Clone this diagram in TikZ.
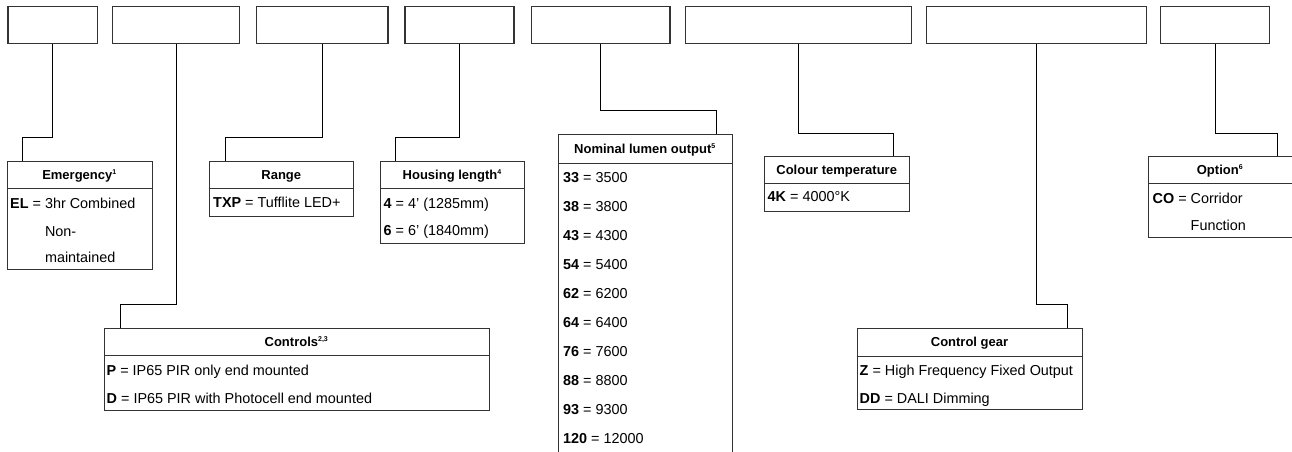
\documentclass[tikz,border=0pt]{standalone}
\usepackage{fontspec}
\setmainfont{Liberation Sans}
\usepackage{tikz}
\usetikzlibrary{positioning,calc}
\definecolor{CodeLine}{HTML}{333333}
\newcommand{\headfont}{\fontsize{13}{15}\selectfont\bfseries}
\newcommand{\rowfont}{\fontsize{14.4}{17}\selectfont}
\newcommand{\fnote}[1]{\textsuperscript{\fontsize{7}{7}\selectfont #1}}
\tikzset{
  codebox/.style={draw=CodeLine,line width=1.3pt,minimum height=36.7pt,anchor=north west,inner sep=0pt},
  keybox/.style={draw=CodeLine,line width=1pt,anchor=north west,inner sep=0pt},
  keyhead/.style={font=\headfont,anchor=base,inner sep=0pt},
  keyrow/.style={font=\rowfont,anchor=base west,inner sep=0pt},
  divider/.style={draw=CodeLine,line width=1pt},
  link/.style={draw=black,line width=1pt}
}
\begin{document}
\begin{tikzpicture}[x=1pt,y=-1pt]
  \useasboundingbox (0,0) rectangle (1292,452);
  \clip (0,0) rectangle (1292,452);
  % code boxes along the top
  \node[codebox,minimum width=89.4pt] (t1) at (7.3,6) {};
  \node[codebox,minimum width=127.3pt] (t2) at (111.7,6) {};
  \node[codebox,minimum width=131.3pt] (t3) at (256,6) {};
  \node[codebox,minimum width=109pt] (t4) at (404.3,6) {};
  \node[codebox,minimum width=138.3pt] (t5) at (531,6) {};
  \node[codebox,minimum width=225.7pt] (t6) at (685,6) {};
  \node[codebox,minimum width=220pt] (t7) at (925.7,6) {};
  \node[codebox,minimum width=109pt] (t8) at (1160,6) {};
  % key tables
  \node[keybox,minimum width=144.4pt,minimum height=108.3pt] (emer) at (7.3,161) {};
  \draw[divider] ([yshift=-27.3pt]emer.north west) -- ([yshift=-27.3pt]emer.north east);
  \node[keyhead] (emerhd) at (79.5,179.3) {Emergency\fnote{1}};
  \node[keyrow] (emerel) at (10,208.2) {\textbf{EL} = 3hr Combined};
  \node[keyrow] (emernon) at (10,236) {\phantom{\textbf{EL} = }Non-};
  \node[keyrow] (emermnt) at (10,262) {\phantom{\textbf{EL} = }maintained};

  \node[keybox,minimum width=385pt,minimum height=82pt] (ctrl) at (104,327.7) {};
  \draw[divider] ([yshift=-27.3pt]ctrl.north west) -- ([yshift=-27.3pt]ctrl.north east);
  \node[keyhead] (ctrlhd) at (296.5,346) {Controls\fnote{2,3}};
  \node[keyrow] (ctrlp) at (106.5,375.9) {\textbf{P} = IP65 PIR only end mounted};
  \node[keyrow] (ctrld) at (106.5,403.2) {\textbf{D} = IP65 PIR with Photocell end mounted};

  \node[keybox,minimum width=144pt,minimum height=55pt] (range) at (209.3,161) {};
  \draw[divider] ([yshift=-27.3pt]range.north west) -- ([yshift=-27.3pt]range.north east);
  \node[keyhead] (rangehd) at (281.3,179.3) {Range};
  \node[keyrow] (rangetxp) at (213,207.2) {\textbf{TXP} = Tufflite LED+};

  \node[keybox,minimum width=144.3pt,minimum height=82.3pt] (house) at (380,161) {};
  \draw[divider] ([yshift=-27.3pt]house.north west) -- ([yshift=-27.3pt]house.north east);
  \node[keyhead] (househd) at (452.2,179.3) {Housing length\fnote{4}};
  \node[keyrow] (housefour) at (383.5,208.2) {\textbf{4} = 4’ (1285mm)};
  \node[keyrow] (housesix) at (383.5,235.2) {\textbf{6} = 6’ (1840mm)};

  \node[keybox,minimum width=173.4pt,minimum height=340pt] (lumen) at (558.3,134) {};
  \draw[divider] ([yshift=-29.3pt]lumen.north west) -- ([yshift=-29.3pt]lumen.north east);
  \node[keyhead] (lumenhd) at (645,153.3) {Nominal lumen output\fnote{5}};
  \node[keyrow] (lum33) at (563,182.9) {\textbf{33} = 3500};
  \node[keyrow] (lum38) at (563,211.8) {\textbf{38} = 3800};
  \node[keyrow] (lum43) at (563,240.7) {\textbf{43} = 4300};
  \node[keyrow] (lum54) at (563,269.6) {\textbf{54} = 5400};
  \node[keyrow] (lum62) at (563,298.5) {\textbf{62} = 6200};
  \node[keyrow] (lum64) at (563,327.4) {\textbf{64} = 6400};
  \node[keyrow] (lum76) at (563,356.3) {\textbf{76} = 7600};
  \node[keyrow] (lum88) at (563,385.2) {\textbf{88} = 8800};
  \node[keyrow] (lum93) at (563,414.1) {\textbf{93} = 9300};
  \node[keyrow] (lum120) at (563,443) {\textbf{120} = 12000};

  \node[keybox,minimum width=144.7pt,minimum height=55.3pt] (colour) at (764.3,155.7) {};
  \draw[divider] ([yshift=-27.6pt]colour.north west) -- ([yshift=-27.6pt]colour.north east);
  \node[keyhead] (colourhd) at (836.7,174.2) {Colour temperature};
  \node[keyrow] (colourfourk) at (767.5,201.9) {\textbf{4K} = 4000°K};

  \node[keybox,minimum width=225.6pt,minimum height=81.6pt] (gear) at (856.7,327.7) {};
  \draw[divider] ([yshift=-28.3pt]gear.north west) -- ([yshift=-28.3pt]gear.north east);
  \node[keyhead] (gearhd) at (969.5,346.5) {Control gear};
  \node[keyrow] (gearz) at (859.5,375.2) {\textbf{Z} = High Frequency Fixed Output};
  \node[keyrow] (geardd) at (859.5,403.5) {\textbf{DD} = DALI Dimming};

  \node[keybox,minimum width=143.4pt,minimum height=81.6pt] (option) at (1148.3,155.7) {};
  \draw[divider] ([yshift=-27.6pt]option.north west) -- ([yshift=-27.6pt]option.north east);
  \node[keyhead] (optionhd) at (1220,174.2) {Option\fnote{6}};
  \node[keyrow] (optionco) at (1152.5,203.5) {\textbf{CO} = Corridor};
  \node[keyrow] (optionfn) at (1152.5,230.2) {\phantom{\textbf{CO} = }Function};
  % connectors
  \draw[link] (t1.south) -- ++(0,93.3) -| ([xshift=15.4pt]emer.north west);
  \draw[link] (t2.south) -- ++(0,260) -| ([xshift=16.7pt]ctrl.north west);
  \draw[link] (t3.south) -- ++(0,93.6) -| ([xshift=15.7pt]range.north west);
  \draw[link] (t4.south) -- ++(0,93.3) -| ([xshift=15.7pt]house.north west);
  \draw[link] (t5.south) -- ++(0,66.6) -| ([xshift=157.7pt]lumen.north west);
  \draw[link] (t6.south) -- ++(0,89.6) -| ([xshift=129pt]colour.north west);
  \draw[link] (t7.south) -- ++(0,260.6) -| ([xshift=210.6pt]gear.north west);
  \draw[link] (t8.south) -- ++(0,89) -| ([xshift=128.7pt]option.north west);
\end{tikzpicture}
\end{document}
